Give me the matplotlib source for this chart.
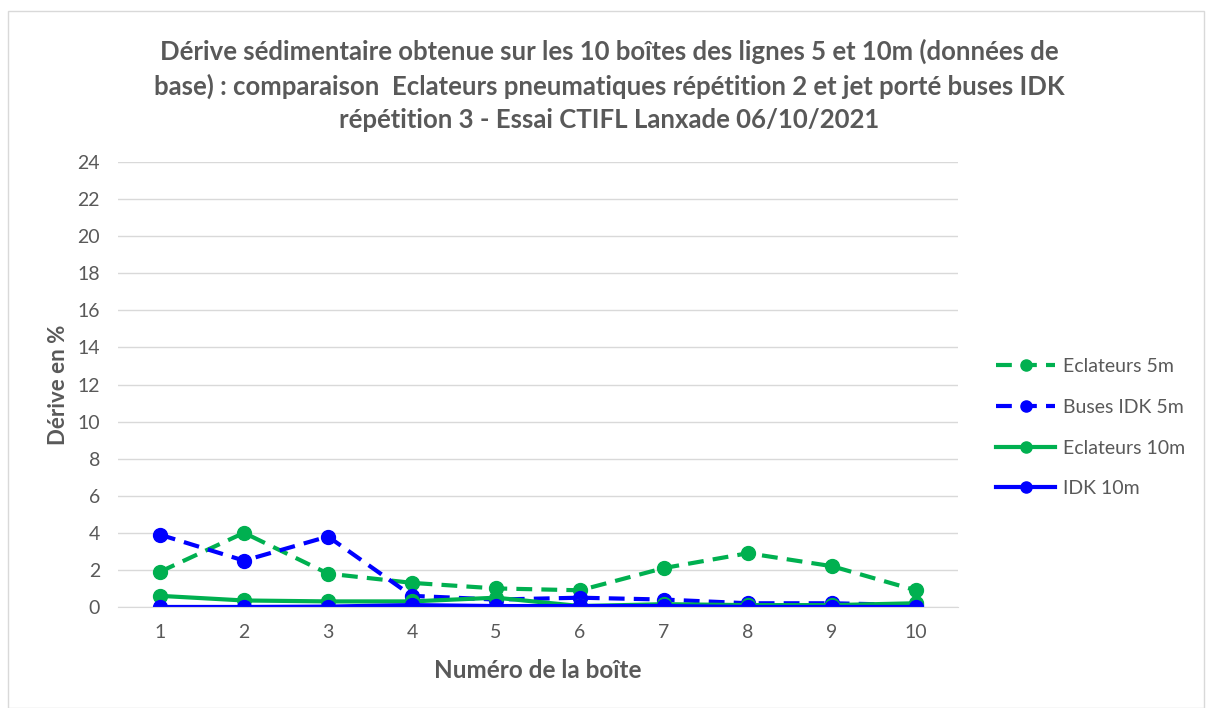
import matplotlib.pyplot as plt
import matplotlib
from matplotlib.patches import Rectangle

matplotlib.rcParams['font.family'] = ['Lato', 'DejaVu Sans']

# Données
boites = [1, 2, 3, 4, 5, 6, 7, 8, 9, 10]
eclateurs_5m = [1.9, 4.0, 1.8, 1.3, 1.0, 0.9, 2.1, 2.9, 2.2, 0.9]
buses_idk_5m = [3.9, 2.5, 3.8, 0.6, 0.4, 0.5, 0.4, 0.2, 0.2, 0.1]
eclateurs_10m = [0.6, 0.35, 0.3, 0.3, 0.5, 0.05, 0.15, 0.1, 0.1, 0.2]
idk_10m = [0.0, 0.0, 0.02, 0.1, 0.05, 0.05, 0.05, 0.0, 0.0, 0.0]
yticks = list(range(0, 26, 2))

VERT = '#00B050'
BLEU = '#0000FF'
GRIS = '#595959'
TIRETS = (0, (3.8, 2.2))

fig = plt.figure(figsize=(12.08, 7.08), dpi=100)
fig.patches.append(Rectangle((0.007, 0.0), 0.99, 0.985, transform=fig.transFigure,
                             fill=False, edgecolor='#D9D9D9', linewidth=1))
ax = fig.add_axes([0.0977, 0.1427, 0.6953, 0.6283])

ax.plot(boites, eclateurs_5m, color=VERT, linestyle=TIRETS, linewidth=3,
        marker='o', markersize=10, label='Eclateurs 5m')
ax.plot(boites, buses_idk_5m, color=BLEU, linestyle=TIRETS, linewidth=3,
        marker='o', markersize=10, label='Buses IDK 5m')
ax.plot(boites, eclateurs_10m, color=VERT, linewidth=3,
        marker='o', markersize=10, label='Eclateurs 10m')
ax.plot(boites, idk_10m, color=BLEU, linewidth=3,
        marker='o', markersize=10, label='IDK 10m')

ax.set_xlim(0.5, 10.5)
ax.set_ylim(0, 24)
ax.set_xticks(boites)
ax.set_yticks(yticks)
ax.tick_params(axis='both', colors=GRIS, labelsize=14, length=0)
ax.tick_params(axis='y', pad=13)
ax.tick_params(axis='x', pad=12)
ax.yaxis.grid(True, color='#D9D9D9', linewidth=1)
ax.set_axisbelow(True)
for s in ['top', 'right', 'left']:
    ax.spines[s].set_visible(False)
ax.spines['bottom'].set_color('#D9D9D9')

ax.set_xlabel('Numéro de la boîte', fontsize=17.5, fontweight='bold', color=GRIS, labelpad=13)
ax.set_ylabel('Dérive en %', fontsize=16, fontweight='bold', color=GRIS, labelpad=6)

fig.text(0.504, 0.88,
         'Dérive sédimentaire obtenue sur les 10 boîtes des lignes 5 et 10m (données de\n'
         'base) : comparaison  Eclateurs pneumatiques répétition 2 et jet porté buses IDK\n'
         'répétition 3 - Essai CTIFL Lanxade 06/10/2021',
         ha='center', va='center', fontsize=18.5, fontweight='bold', color=GRIS,
         linespacing=1.45)

leg = ax.legend(loc='center left', bbox_to_anchor=(1.025, 0.403), frameon=False,
                fontsize=14, labelcolor=GRIS, handlelength=3.0, labelspacing=1.22,
                handletextpad=0.4)
for h in leg.legend_handles:
    h.set_markersize(8)

plt.savefig('out.png', dpi=100)
plt.close()
